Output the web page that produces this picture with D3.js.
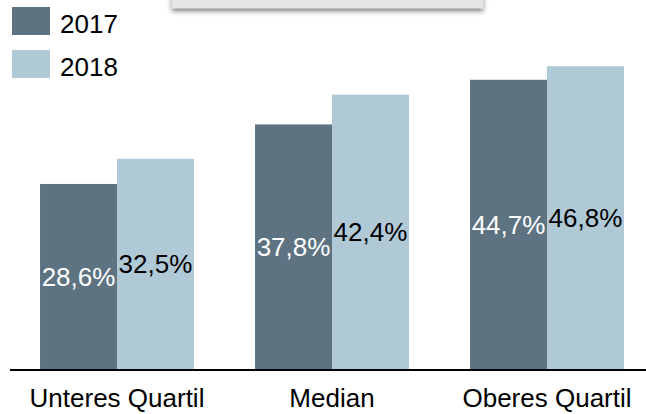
<!DOCTYPE html>
<html>
<head>
<meta charset="utf-8">
<script src="https://cdn.jsdelivr.net/npm/d3@7"></script>
<style>
  body { margin: 0; background: #fff; }
  svg { display: block; font-family: "Liberation Sans", Arial, sans-serif; }
</style>
</head>
<body>
<div id="chart"></div>
<script>
// chart data
var categories = ["Unteres Quartil", "Median", "Oberes Quartil"];
var years = ["2017", "2018"];
var values2017 = [28.6, 37.8, 44.7];
var values2018 = [32.5, 42.4, 46.8];
var colors = ["#5e7382", "#b0c9d6"];
var labelColors = ["#ffffff", "#000000"];

var width = 646, height = 414;
var baseline = 369;

var svg = d3.select("#chart").append("svg")
    .attr("width", width).attr("height", height);

// drop shadow for the clipped box at the top
var defs = svg.append("defs");
var shadow = defs.append("filter").attr("id", "shadow")
    .attr("x", "-10%").attr("y", "-50%").attr("width", "120%").attr("height", "250%");
shadow.append("feDropShadow").attr("dx", 0).attr("dy", 3).attr("stdDeviation", 2.5)
    .attr("flood-color", "#000").attr("flood-opacity", 0.5);

svg.append("rect")
    .attr("x", 172).attr("y", -20).attr("width", 311).attr("height", 28)
    .attr("fill", "#e6e6e6").attr("stroke", "#d2d2d2").attr("stroke-width", 0.5)
    .attr("filter", "url(#shadow)");

// scales
var x0 = d3.scaleBand().domain(categories)
    .range([9.5, 654.5]).paddingInner(0.284).paddingOuter(0.142);
var x1 = d3.scaleBand().domain(years).range([0, x0.bandwidth()]);
var y = d3.scaleLinear().domain([0, 50]).range([baseline, baseline - 323.5]);

var rows = categories.map(function(c, i) {
    return { cat: c, vals: [values2017[i], values2018[i]] };
});

var groups = svg.selectAll("g.group").data(rows).enter().append("g")
    .attr("class", "group")
    .attr("transform", function(d) { return "translate(" + x0(d.cat) + ",0)"; });

var bars = groups.selectAll("g.bar").data(function(d) {
    return d.vals.map(function(v, j) { return { year: years[j], v: v, j: j }; });
}).enter().append("g").attr("class", "bar");

bars.append("rect")
    .attr("x", function(d) { return x1(d.year); })
    .attr("y", function(d) { return y(d.v); })
    .attr("width", x1.bandwidth())
    .attr("height", function(d) { return baseline - y(d.v); })
    .attr("fill", function(d) { return colors[d.j]; });

bars.append("text")
    .attr("x", function(d) { return x1(d.year) + x1.bandwidth() / 2; })
    .attr("y", function(d) { return (y(d.v) + baseline) / 2; })
    .attr("dy", "0.36em")
    .attr("text-anchor", "middle")
    .attr("font-size", "26px")
    .attr("fill", function(d) { return labelColors[d.j]; })
    .text(function(d) { return d3.format(".1f")(d.v).replace(".", ",") + "%"; });

// x axis
var xAxis = svg.append("g")
    .attr("transform", "translate(0," + (baseline + 1) + ")")
    .call(d3.axisBottom(x0).tickSize(0).tickPadding(19));
xAxis.select(".domain").attr("d", "M10,0H646").attr("stroke", "#000").attr("stroke-width", 2);
xAxis.selectAll("text")
    .attr("font-size", "26px")
    .attr("font-family", "'Liberation Sans', Arial, sans-serif")
    .attr("fill", "#000");

// legend
var legend = svg.selectAll("g.legend").data(years).enter().append("g")
    .attr("class", "legend")
    .attr("transform", function(d, i) { return "translate(12," + (7 + i * 43) + ")"; });
legend.append("rect")
    .attr("width", 38).attr("height", 28)
    .attr("fill", function(d, i) { return colors[i]; });
legend.append("text")
    .attr("x", 48).attr("y", 25.5)
    .attr("font-size", "26px")
    .attr("fill", "#000")
    .text(function(d) { return d; });
</script>
</body>
</html>
